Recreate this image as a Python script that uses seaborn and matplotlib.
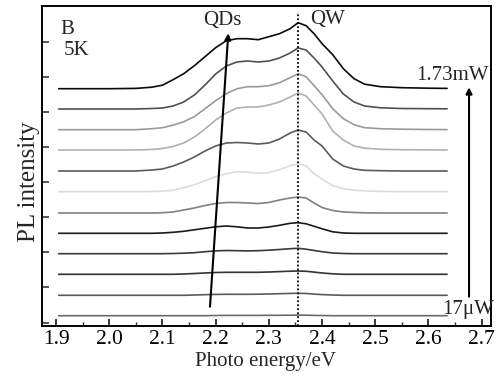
import numpy as np
import pandas as pd
import matplotlib
matplotlib.use("Agg")
import matplotlib.pyplot as plt
import seaborn as sns

# ---------------- data ----------------
energy = [1.905, 2.00, 2.05, 2.08, 2.10, 2.12, 2.14, 2.16, 2.18, 2.20, 2.22, 2.24,
          2.26, 2.28, 2.30, 2.32, 2.34, 2.355, 2.37, 2.385, 2.40, 2.42, 2.44, 2.46,
          2.48, 2.51, 2.55, 2.60, 2.635]

# PL intensity above each spectrum's own baseline (arbitrary units), lowest power first
spec_01 = [0, 0, 0, 0, 0, 0, 0, 0, 0, 0.2, 0.3, 0.3, 0.3, 0.3, 0.4, 0.4, 0.5, 0.6, 0.5, 0.3, 0.2, 0, 0, 0, 0, 0, 0, 0, 0]
spec_02 = [0, 0, 0, 0, 0, 0, 0, 0.3, 0.6, 0.9, 1, 1, 1, 1.1, 1.3, 1.6, 1.9, 2, 1.8, 1.2, 0.7, 0.3, 0, 0, 0, 0, 0, 0, 0]
spec_03 = [0, 0, 0, 0, 0, 0, 0.3, 0.8, 1.3, 1.8, 2, 2, 2, 2, 2.3, 2.7, 3.1, 3.3, 3, 2.2, 1.3, 0.5, 0, 0, 0, 0, 0, 0, 0]
spec_04 = [0, 0, 0, 0, 0, 0.2, 0.5, 1, 2, 2.8, 3.2, 3, 2.8, 3, 3.5, 4.2, 5, 5.4, 4.5, 3.2, 2, 0.7, 0.2, 0, 0, 0, 0, 0, 0]
spec_05 = [0, 0, 0, 0, 0.3, 1, 2, 3.5, 5, 6.5, 7.3, 6.5, 5.3, 5.3, 6.3, 8, 10, 10.6, 9.5, 7, 4.5, 1.5, 0.3, 0, 0, 0, 0, 0, 0]
spec_06 = [0, 0, 0, 0, 0.3, 1, 3, 5, 7.5, 9.5, 10.5, 10.5, 10, 9.5, 10.5, 13, 15, 16, 15, 10, 5.5, 2.5, 1, 0.5, 0.2, 0, 0, 0, 0]
spec_07 = [0, 0, 0, 0.2, 0.5, 1.5, 4, 7, 11, 15, 18, 20, 19.5, 18.5, 19, 22, 26, 28, 26, 18, 12.5, 6, 3, 1.5, 0.8, 0.3, 0, 0, 0]
spec_08 = [0, 0, 0, 1, 2, 5, 9, 14, 20, 25, 28, 28.5, 28, 27, 28, 32, 38, 41, 39, 31, 25, 12, 5, 2, 0.7, 0.3, 0, 0, 0]
spec_09 = [0, 0, 0, 0.5, 1.5, 3.5, 7, 13, 21, 30, 37, 42, 43, 43, 45, 48, 53, 57, 54, 45, 36, 19, 10, 4, 1.8, 0.7, 0.3, 0.1, 0]
spec_10 = [0, 0, 0, 1, 2, 4.5, 8, 13, 21, 29, 36, 41, 43, 43, 44, 47, 52, 56, 53, 44, 35, 21, 11, 5, 2, 1, 0.5, 0.2, 0.1]
spec_11 = [0, 0, 0, 0.5, 1, 3, 7, 14, 24, 35, 43, 47, 48, 47, 48, 51, 56, 61, 59, 51, 42, 28, 15, 7, 3, 1.2, 0.5, 0.3, 0.2]
spec_12 = [0, 0, 0.3, 1.5, 3.5, 9, 15, 23, 32, 41, 48, 50, 50, 49, 52, 55, 60, 66, 63, 55, 45, 34, 20, 10, 4.5, 2, 1, 0.5, 0.3]

spectra = [spec_01, spec_02, spec_03, spec_04, spec_05, spec_06,
           spec_07, spec_08, spec_09, spec_10, spec_11, spec_12]
# vertical stacking offsets of each spectrum
offsets = [10.3, 30.7, 51.7, 72.3, 92.7, 113, 134.3, 155, 176, 196.3, 217, 237.3]

x_ticks = [1.9, 2.0, 2.1, 2.2, 2.3, 2.4, 2.5, 2.6, 2.7]
x_tick_labels = ["1.9", "2.0", "2.1", "2.2", "2.3", "2.4", "2.5", "2.6", "2.7"]
y_ticks = [3.5, 38.6, 73.7, 108.8, 143.9, 179.0, 214.1, 249.2, 284.3]

qw_energy = 2.3555                       # dotted QW line
qd_trend = ([2.1894, 2.2238], [19.3, 292.7])   # QDs shift line (start, end)
power_arrow = ([2.6762, 2.6762], [29.3, 238.7])

colors = ['#6a6a6a', '#5a5a5a', '#333333', '#3a3a3a', '#1a1a1a', '#808080',
          '#dcdcdc', '#5a5a5a', '#b0b0b0', '#9a9a9a', '#505050', '#0a0a0a']

# ---------------- build table ----------------
rows = []
for i, (spec, off) in enumerate(zip(spectra, offsets)):
    for e, v in zip(energy, spec):
        rows.append({"energy": e, "signal": v + off, "curve": f"c{i:02d}"})
df = pd.DataFrame(rows)

# ---------------- plot ----------------
sns.set_style("white")
plt.rcParams["font.family"] = ["Liberation Serif", "DejaVu Serif"]
plt.rcParams["axes.unicode_minus"] = False

fig = plt.figure(figsize=(5.01, 3.76), dpi=100)
ax = fig.add_axes([42 / 501, 1 - 326 / 376, 448.7 / 501, 320 / 376])

sns.lineplot(data=df, x="energy", y="signal", hue="curve",
             palette=colors, legend=False, estimator=None, sort=False,
             linewidth=1.2, ax=ax)

ax.set_xlim(1.8737, 2.7169)
ax.set_ylim(0, 320)

# dotted QW line
ax.axvline(qw_energy, ymin=0, ymax=314.3 / 320, color="black",
           linestyle=(0, (1, 1.2)), linewidth=1.3)

# QDs trend arrow
ax.annotate("", xy=(qd_trend[0][1], qd_trend[1][1]),
            xytext=(qd_trend[0][0], qd_trend[1][0]),
            arrowprops=dict(arrowstyle="-|>", color="black", lw=1.5,
                            mutation_scale=9, shrinkA=0, shrinkB=0))
# power arrow
ax.annotate("", xy=(power_arrow[0][1], power_arrow[1][1]),
            xytext=(power_arrow[0][0], power_arrow[1][0]),
            arrowprops=dict(arrowstyle="-|>", color="black", lw=1.5,
                            mutation_scale=9, shrinkA=0, shrinkB=0))

fs = 15
ax.text(1.9075, 297, "B", fontsize=fs, ha="left", va="center")
ax.text(1.9137, 275.2, "5K", fontsize=fs, ha="left", va="center")
ax.text(2.2124, 305, "QDs", fontsize=fs, ha="center", va="center")
ax.text(2.4103, 306.3, "QW", fontsize=fs, ha="center", va="center")
ax.text(2.6452, 251, "1.73mW", fontsize=fs, ha="center", va="center")
ax.text(2.6749, 16.5, "17\u03bcW", fontsize=fs, ha="center", va="center")

ax.set_xticks(x_ticks)
ax.set_xticklabels(x_tick_labels, fontsize=15.5)
ax.set_xticks([t + 0.05 for t in x_ticks[:-1]], minor=True)
ax.set_yticks(y_ticks)
ax.set_yticklabels([])

ax.tick_params(axis="x", which="major", direction="in", length=5, width=1.1,
               pad=3, bottom=True, top=False, colors="black")
ax.tick_params(axis="x", which="minor", direction="in", length=3, width=1.0,
               bottom=True, top=False)
ax.tick_params(axis="y", which="major", direction="in", length=5, width=1.1,
               left=True, right=False)

for s in ax.spines.values():
    s.set_visible(True)
    s.set_color("black")
    s.set_linewidth(1.4)

ax.set_xlabel("Photo energy/eV", fontsize=15, va="center")
ax.xaxis.set_label_coords(0.497, -0.111)
ax.set_ylabel("PL intensity", fontsize=18, va="center", ha="center")
ax.yaxis.set_label_coords(-0.029, 0.452)

fig.savefig("out.png", dpi=100, facecolor="white")
